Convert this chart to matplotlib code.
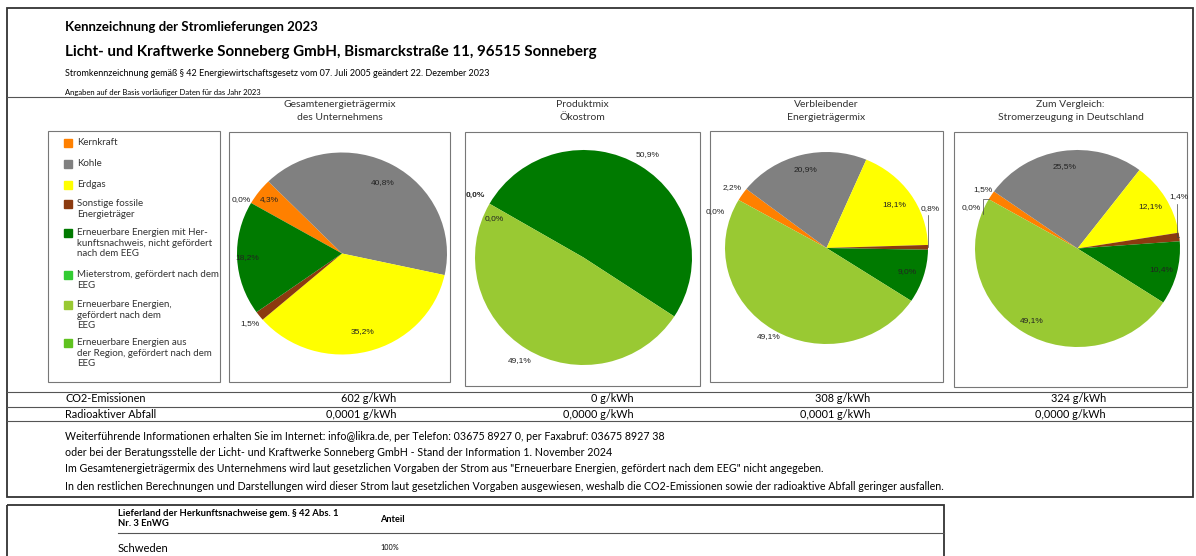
"""
plot.py
Stromkennzeichnung 2023 - Licht- und Kraftwerke Sonneberg, four pie charts.
"""

import matplotlib
matplotlib.use("Agg")
import matplotlib.pyplot as plt
from matplotlib.patches import Rectangle
import numpy as np

W, H = 1196, 556

# legend categories
categories = [
    "Kernkraft",
    "Kohle",
    "Erdgas",
    "Sonstige fossile\nEnergieträger",
    "Erneuerbare Energien mit Her-\nkunftsnachweis, nicht gefördert\nnach dem EEG",
    "Mieterstrom, gefördert nach dem\nEEG",
    "Erneuerbare Energien,\ngefördert nach dem\nEEG",
    "Erneuerbare Energien aus\nder Region, gefördert nach dem\nEEG",
]
colors = ["#ff8000", "#808080", "#ffff00", "#8b3a0f",
          "#007a00", "#33cc33", "#99c933", "#5fc21f"]

# shares in % per chart (None = category not shown in that chart)
pie_titles = [
    "Gesamtenergieträgermix\ndes Unternehmens",
    "Produktmix\nÖkostrom",
    "Verbleibender\nEnergieträgermix",
    "Zum Vergleich:\nStromerzeugung in Deutschland",
]
mix_unternehmen = [4.3, 40.8, 35.2, 1.5, 18.2, 0.0, None, None]
mix_oekostrom = [0.0, None, None, None, 50.9, None, 49.1, 0.0]
mix_verbleibend = [2.2, 20.9, 18.1, 0.8, 9.0, None, 49.1, 0.0]
mix_deutschland = [1.5, 25.5, 12.1, 1.4, 10.4, None, 49.1, 0.0]
pie_data = [mix_unternehmen, mix_oekostrom, mix_verbleibend, mix_deutschland]

co2 = ["602 g/kWh", "0 g/kWh", "308 g/kWh", "324 g/kWh"]
abfall = ["0,0001 g/kWh", "0,0000 g/kWh", "0,0001 g/kWh", "0,0000 g/kWh"]

# layout (pixels): box x0, x1, y0, y1 and pie centre / radii (source is slightly squashed)
boxes = [(229, 450, 132, 382), (465, 700, 132, 386),
         (710, 943, 131, 382), (954, 1187, 132, 387)]
centres = [(342, 253.5, 105, 101), (583.5, 257.5, 108.5, 107.5),
           (826.5, 248, 101.5, 96), (1077.5, 248.5, 102.5, 98.5)]
col_right = [396, 634, 870, 1106]

# label placement per visible slice: (radius, angle override, leader line)
label_pos = [
    [(0.87, None, 0), (0.8, None, 0), (0.8, None, 0), (1.12, None, 0), (0.9, None, 0), (1.1, 151, 0)],
    [(1.15, None, 0), (1.13, None, 0), (1.13, None, 0), (0.9, 156, 0)],
    [(1.12, None, 0), (0.84, None, 0), (0.81, None, 0), (1.1, 22, 1), (0.83, None, 0), (1.09, None, 0), (1.16, 161, 0)],
    [(1.1, None, 0), (0.84, None, 0), (0.83, None, 0), (1.12, 28, 1), (0.84, None, 0), (0.86, None, 0), (1.12, 158, 1)],
]

TXT = "Lato"
LBL = "Liberation Sans"

fig = plt.figure(figsize=(W / 100, H / 100), dpi=100)
bg = fig.add_axes([0, 0, 1, 1])
bg.set_xlim(0, W)
bg.set_ylim(H, 0)
bg.axis("off")

line_c = "#555555"
# outer frame and separators
bg.add_patch(Rectangle((7, 8), 1186, 489, fill=False, lw=1.3, ec="#333333"))
for y in (97, 392, 407, 421):
    bg.plot([7, 1193], [y, y], color=line_c, lw=0.8)

# header
bg.text(65, 27, "Kennzeichnung der Stromlieferungen 2023", fontsize=9.5,
        fontweight="bold", family=TXT, va="center")
bg.text(65, 52, "Licht- und Kraftwerke Sonneberg GmbH, Bismarckstraße 11, 96515 Sonneberg",
        fontsize=10.9, fontweight="bold", family=TXT, va="center")
bg.text(65, 73, "Stromkennzeichnung gemäß § 42 Energiewirtschaftsgesetz vom 07. Juli 2005 "
        "geändert 22. Dezember 2023", fontsize=6.5, family=TXT, va="center")
bg.text(65, 92, "Angaben auf der Basis vorläufiger Daten für das Jahr 2023",
        fontsize=5.5, family=TXT, va="center")

# legend box
bg.add_patch(Rectangle((48, 131), 172, 251, fill=False, lw=0.8, ec="#777777"))
leg_y = [143, 164, 185, 204, 233, 275, 305, 343]
for y, lab, c in zip(leg_y, categories, colors):
    bg.add_patch(Rectangle((64, y - 4), 8, 8, color=c))
    bg.text(77, y - 5, lab, fontsize=7.0, family=TXT, va="top",
            color="#333333", linespacing=1.25)

# pies
for i, vals in enumerate(pie_data):
    x0, x1, y0, y1 = boxes[i]
    bg.add_patch(Rectangle((x0, y0), x1 - x0, y1 - y0, fill=False, lw=0.8, ec="#777777"))
    bg.text((x0 + x1) / 2, 111, pie_titles[i], fontsize=7.5, family=TXT,
            ha="center", va="center", color="#333333", linespacing=1.45)

    shown = [(v, c) for v, c in zip(vals, colors) if v is not None]
    values = [v for v, _ in shown]
    cols = [c for _, c in shown]
    cx, cy, rx, ry = centres[i]
    ax = fig.add_axes([(cx - rx) / W, 1 - (cy + ry) / H, 2 * rx / W, 2 * ry / H])
    wedges, _ = ax.pie(values, colors=cols, startangle=150, counterclock=False,
                       radius=1, wedgeprops=dict(linewidth=0))
    ax.set_aspect("auto")
    ax.set_xlim(-1, 1)
    ax.set_ylim(-1, 1)
    ax.axis("off")
    for w, v, (rr, ang, lead) in zip(wedges, values, label_pos[i]):
        mid = (w.theta1 + w.theta2) / 2
        a = np.deg2rad(ang if ang is not None else mid)
        tx, ty = rr * np.cos(a), rr * np.sin(a)
        bold = "bold" if (i == 1 and rr > 1.14) else "normal"
        ax.text(tx, ty, f"{v:.1f}%".replace(".", ","), fontsize=6.0, family=LBL,
                ha="center", va="center", color="#222222", clip_on=False,
                fontweight=bold)
        if lead:
            m = np.deg2rad(mid)
            ex, ey = np.cos(m), np.sin(m)
            kx = tx - 0.02 if tx > 0 else tx + 0.12
            ax.plot([kx, kx, ex], [ty - 0.07, ey, ey], color="#444444", lw=0.5,
                    clip_on=False)

# emission table
bg.text(65, 399, "CO2-Emissionen", fontsize=7.8, family=TXT, va="center")
bg.text(65, 414, "Radioaktiver Abfall", fontsize=7.8, family=TXT, va="center")
for x, a, b in zip(col_right, co2, abfall):
    bg.text(x, 399, a, fontsize=7.8, family=TXT, ha="right", va="center")
    bg.text(x, 414, b, fontsize=7.8, family=TXT, ha="right", va="center")

# footer text
foot = [
    (436, "Weiterführende Informationen erhalten Sie im Internet: info@likra.de, per Telefon: "
          "03675 8927 0, per Faxabruf: 03675 8927 38"),
    (452, "oder bei der Beratungsstelle der Licht- und Kraftwerke Sonneberg GmbH - Stand der "
          "Information 1. November 2024"),
    (469, "Im Gesamtenergieträgermix des Unternehmens wird laut gesetzlichen Vorgaben der Strom aus "
          "\"Erneuerbare Energien, gefördert nach dem EEG\" nicht angegeben."),
    (486, "In den restlichen Berechnungen und Darstellungen wird dieser Strom laut gesetzlichen "
          "Vorgaben ausgewiesen, weshalb die CO2-Emissionen sowie der radioaktive Abfall geringer "
          "ausfallen."),
]
for y, t in foot:
    bg.text(65, y, t, fontsize=7.7, family=TXT, va="center")

# origin table
bg.add_patch(Rectangle((7, 505), 937, 60, fill=False, lw=1.3, ec="#333333"))
bg.plot([118, 944], [533, 533], color=line_c, lw=0.8)
bg.text(118, 513, "Lieferland der Herkunftsnachweise gem. § 42 Abs. 1", fontsize=6.8,
        fontweight="bold", family=TXT, va="center")
bg.text(118, 524, "Nr. 3 EnWG", fontsize=6.8, fontweight="bold", family=TXT, va="center")
bg.text(380, 519, "Anteil", fontsize=6.6, fontweight="bold", family=TXT, va="center")
bg.text(118, 548, "Schweden", fontsize=8.0, family=TXT, va="center")
bg.text(380, 548, "100%", fontsize=5.2, family=TXT, va="center")

fig.savefig("out.png", dpi=100)
